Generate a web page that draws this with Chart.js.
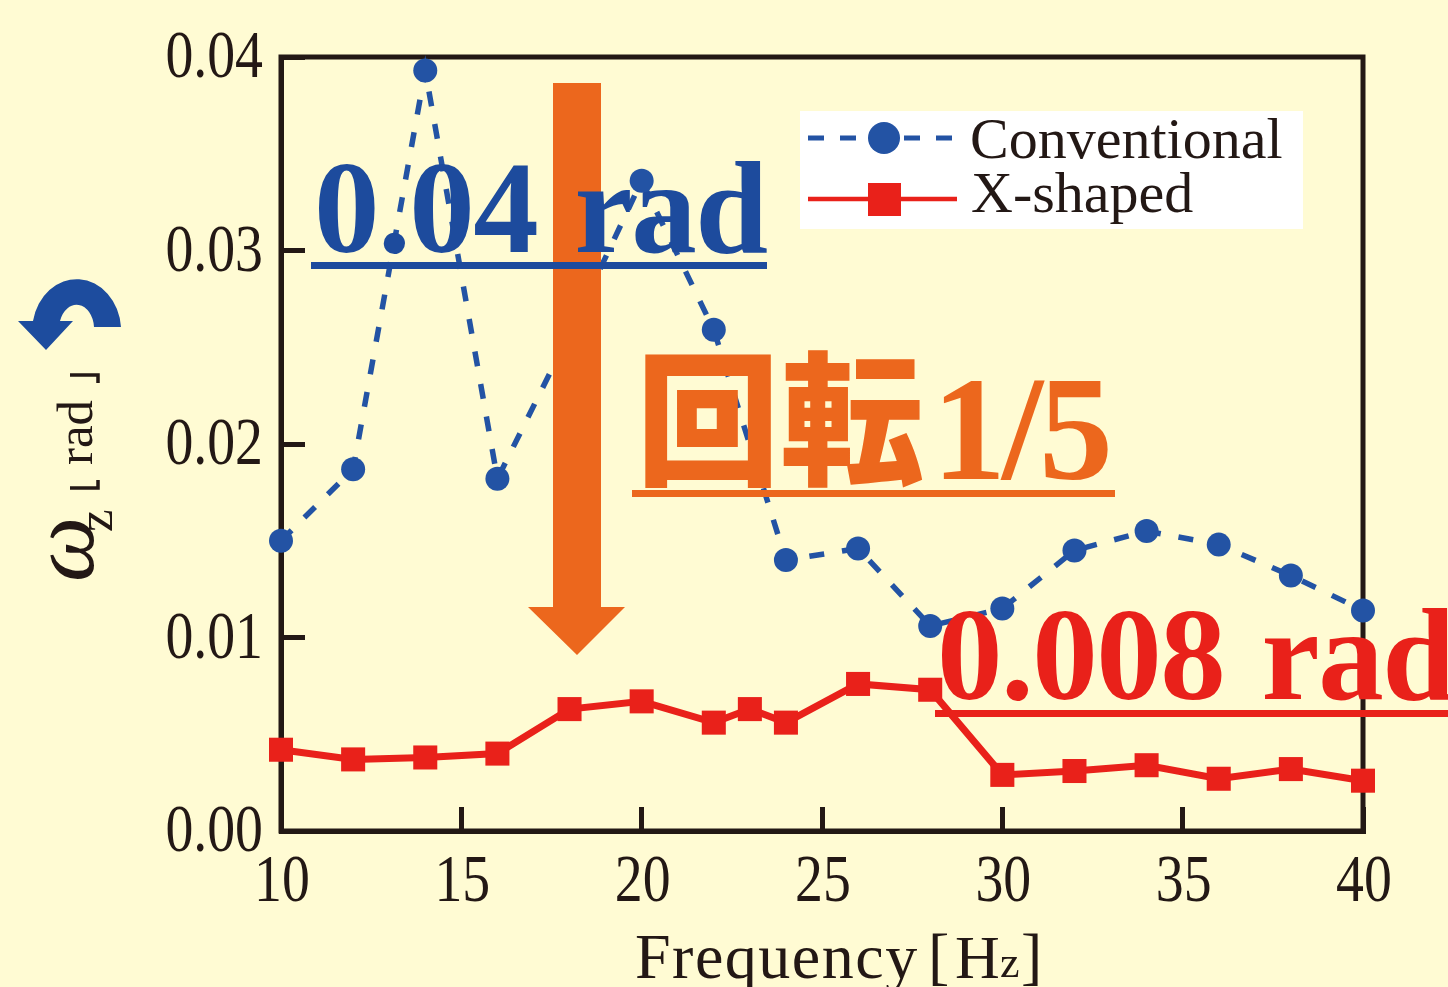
<!DOCTYPE html>
<html lang="ja">
<head>
<meta charset="utf-8">
<title>Frequency vs rotation</title>
<script src="https://cdn.jsdelivr.net/npm/chart.js@4"></script>
<style>
html, body { margin: 0; padding: 0; background: #fffbd3; overflow: hidden; }
#wrap { position: relative; width: 1448px; height: 987px; overflow: hidden; }
#chart { position: absolute; left: 0; top: 0; }
#deco { position: absolute; left: 0; top: 0; }
.t { position: absolute; white-space: nowrap; line-height: 1; font-family: "Liberation Serif", serif; color: #231815; }
.big { font-weight: bold; font-size: 131px; letter-spacing: -1.5px; word-spacing: 6px; }
.rule { position: absolute; height: 7px; }
.rot { transform: rotate(-90deg); transform-origin: 0 0; }
</style>
</head>
<body>
<div id="wrap">
  <canvas id="chart" width="1448" height="987"></canvas>
  <svg id="deco" width="1448" height="987">
    <!-- white legend box, swatches -->
    <rect x="800" y="111" width="503" height="118" fill="#fff"/>
    <line x1="808" x2="953" y1="138" y2="138" stroke="#2353a4" stroke-width="5" stroke-dasharray="16 16"/>
    <circle cx="884" cy="138" r="16" fill="#2353a4"/>
    <line x1="808" x2="957" y1="199" y2="199" stroke="#e9211a" stroke-width="4.5"/>
    <rect x="868" y="183" width="33" height="33" fill="#e9211a"/>
    <!-- big orange arrow -->
    <path d="M553,83 H601 V607 H625 L577,655 L528,607 H553 Z" fill="#ec671d"/>
    <!-- rotation arrow -->
    <path d="M121,327 A44.5,52 0 0 0 33,321 L18,321 L46,350 L73,321 L60,321 A17.5,24 0 0 1 94,327 Z" fill="#1d4c9e"/>
    <!-- corner brackets of the y unit -->
    <path d="M70,488 H98 V480 M70,375 H98 V383" fill="none" stroke="#231815" stroke-width="3.5"/>
  </svg>

  <div class="t" id="leg0" style="left:970px;top:110px;font-size:58px"></div>
  <div class="t" id="leg1" style="left:971px;top:164px;font-size:58px"></div>

  <div class="t big" style="left:314px;top:142px;color:#1d4b9d">0.04 rad</div>
  <div class="rule" style="left:311px;top:262px;width:456px;background:#1d4b9d"></div>

  <div class="t" style="left:636px;top:339px;font-size:144px;font-weight:900;font-family:'Noto Sans CJK JP';color:#ec671d">回転</div>
  <div class="t" style="left:932px;top:355px;font-size:148px;font-weight:bold;letter-spacing:-4px;color:#ec671d">1/5</div>
  <div class="rule" style="left:632px;top:490px;width:483px;background:#ec671d"></div>

  <div class="t big" style="left:937px;top:589px;color:#e9211a">0.008 rad</div>
  <div class="rule" style="left:935px;top:710px;width:513px;background:#e9211a"></div>

  <div class="t" style="left:635px;top:925px;font-size:64px;letter-spacing:1.5px">Frequency</div>
  <div class="t" style="left:928px;top:924px;font-size:64px">[</div>
  <div class="t" style="left:955px;top:926px;font-size:62px">H</div>
  <div class="t" style="left:1000px;top:941px;font-size:44px">z</div>
  <div class="t" style="left:1021px;top:924px;font-size:64px">]</div>

  <div class="t rot" style="left:16px;top:582px;font-size:92px;font-style:italic">ω</div>
  <div class="t rot" style="left:70px;top:532px;font-size:51px">z</div>
  <div class="t rot" style="left:50px;top:465px;font-size:51px">rad</div>
</div>

<script>
// Values
const seriesNames = ['Conventional', 'X-shaped'];
const convFreq = [10, 12, 14, 16, 18, 20, 22, 24, 26, 28, 30, 32, 34, 36, 38, 40];
const convVals = [0.0150, 0.0187, 0.0393, 0.0182, 0.0257, 0.0336, 0.0259, 0.0140, 0.0146, 0.0106, 0.0115, 0.0145, 0.0155, 0.0148, 0.0132, 0.0114];
const xFreq = [10, 12, 14, 16, 18, 20, 22, 23, 24, 26, 28, 30, 32, 34, 36, 38, 40];
const xVals = [0.0042, 0.0037, 0.0038, 0.0040, 0.0063, 0.0067, 0.0056, 0.0063, 0.0056, 0.0076, 0.0073, 0.0029, 0.0031, 0.0034, 0.0027, 0.0032, 0.0026];

const INK = '#231815', BLUE = '#2353a4', RED = '#e9211a';
const TICK_FONT = '68px "Liberation Serif"', SQUEEZE = 0.82;
const toXY = (xs, ys) => xs.map((x, i) => ({ x, y: ys[i] }));

document.getElementById('leg0').textContent = seriesNames[0];
document.getElementById('leg1').textContent = seriesNames[1];

// Frame on all four sides, and condensed tick digits (canvas ticks can't be squeezed by options)
const frame = {
  id: 'frame',
  beforeDatasetsDraw(c) {
    const a = c.chartArea, g = c.ctx;
    g.save(); g.strokeStyle = INK; g.lineWidth = 5;
    g.strokeRect(a.left, a.top, a.right - a.left, a.bottom - a.top);
    g.restore();
  },
  afterDraw(c) {
    const g = c.ctx, sx = c.scales.x, sy = c.scales.y;
    const put = (txt, x, y, align) => {
      g.save(); g.translate(x, y); g.scale(SQUEEZE, 1);
      g.font = TICK_FONT; g.fillStyle = INK; g.textAlign = align; g.textBaseline = 'alphabetic';
      g.fillText(txt, 0, 0); g.restore();
    };
    sx.ticks.forEach((t, i) => put(String(t.value), sx.getPixelForTick(i) + 1, c.chartArea.bottom + 70, 'center'));
    sy.ticks.forEach((t, i) => put(t.value.toFixed(2), 263, sy.getPixelForTick(i) + 20, 'right'));
  },
};

new Chart(document.getElementById('chart').getContext('2d'), {
  type: 'line',
  plugins: [frame],
  data: {
    datasets: [
      { label: seriesNames[0], data: toXY(convFreq, convVals), borderColor: BLUE, backgroundColor: BLUE, borderWidth: 5.5, borderDash: [15, 18], pointStyle: 'circle', pointRadius: 12, pointBorderWidth: 0, tension: 0, clip: false },
      { label: seriesNames[1], data: toXY(xFreq, xVals), borderColor: RED, backgroundColor: RED, borderWidth: 7, pointStyle: 'rect', pointRadius: 17, pointBorderWidth: 0, tension: 0, clip: false },
    ],
  },
  options: {
    responsive: false, animation: false, devicePixelRatio: 1,
    layout: { padding: { top: 57, right: 85, left: 0, bottom: 0 } },
    plugins: { legend: { display: false }, tooltip: { enabled: false } },
    scales: {
      x: {
        type: 'linear', min: 10, max: 40,
        afterFit: s => { s.height = 156; s.paddingLeft = 0; s.paddingRight = 0; },
        border: { color: INK, width: 5 },
        grid: { drawOnChartArea: false, tickLength: -24, color: INK, lineWidth: 5 },
        ticks: { stepSize: 5, maxRotation: 0, color: 'rgba(0,0,0,0)', font: { family: 'Liberation Serif', size: 62 } },
      },
      y: {
        min: 0, max: 0.04,
        afterFit: s => { s.width = 281; s.paddingTop = 0; s.paddingBottom = 0; },
        border: { color: INK, width: 5 },
        grid: { drawOnChartArea: false, tickLength: -24, color: INK, lineWidth: 5 },
        ticks: { stepSize: 0.01, color: 'rgba(0,0,0,0)', callback: v => v.toFixed(2), font: { family: 'Liberation Serif', size: 62 } },
      },
    },
  },
});
</script>
</body>
</html>
